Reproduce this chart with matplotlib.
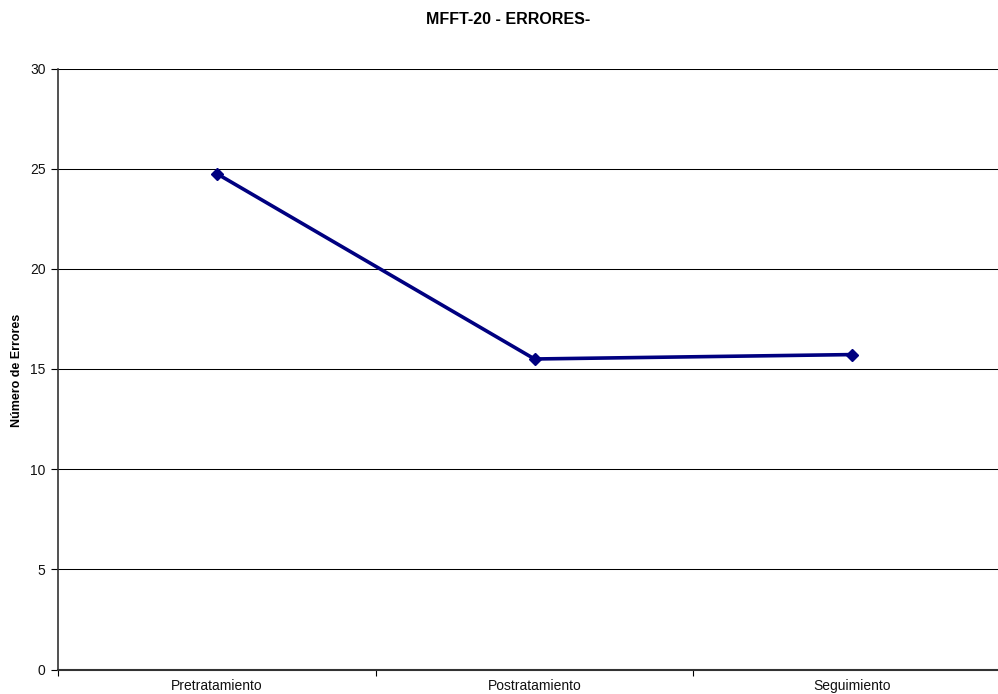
import matplotlib
matplotlib.use("Agg")
import matplotlib.pyplot as plt
import numpy as np

# Data
categories = ["Pretratamiento", "Postratamiento", "Seguimiento"]
errores = [24.75, 15.5, 15.72]
y_ticks = [0, 5, 10, 15, 20, 25, 30]

plt.rcParams['font.family'] = ['Liberation Sans', 'DejaVu Sans']

W, H = 998, 694
fig = plt.figure(figsize=(W / 100, H / 100), dpi=100)

left, right = 58 / W, 1011 / W
bottom, top = (H - 669.5) / H, (H - 68.5) / H
ax = fig.add_axes([left, bottom, right - left, top - bottom])

x = np.arange(len(categories))
ax.set_xlim(-0.5, len(categories) - 0.5)
ax.set_ylim(0, 30)

# Horizontal gridlines
ax.set_yticks(y_ticks)
ax.yaxis.grid(True, color="#000000", linewidth=0.75)
ax.set_axisbelow(True)

ax.plot(x, errores, color="#000080", linewidth=2.6, marker="D",
        markersize=6.5, markerfacecolor="#000080", markeredgecolor="#000080",
        zorder=3, clip_on=False)

# Category labels centered, ticks at boundaries
ax.set_xticks(np.arange(-0.5, len(categories) + 0.5, 1.0))
ax.set_xticklabels([])
ax.set_xticks(x, minor=True)
ax.set_xticklabels(categories, minor=True, fontsize=10, color="#111111")
ax.tick_params(axis="x", which="minor", length=0, pad=6.5)
ax.tick_params(axis="x", which="major", length=4, width=0.8, direction="out", color="black")
ax.tick_params(axis="y", length=5, width=0.8, direction="out", labelsize=10, pad=4,
               color="black", labelcolor="#111111")

for s in ["top", "right"]:
    ax.spines[s].set_visible(False)
ax.spines["left"].set_color("#333333")
ax.spines["left"].set_linewidth(1.2)
ax.spines["bottom"].set_color("#333333")
ax.spines["bottom"].set_linewidth(1.5)

fig.text(508 / W, 1 - 20 / H, "MFFT-20 - ERRORES-", ha="center", va="center",
         fontsize=11.5, fontweight="bold")
fig.text(16.7 / W, 1 - 370 / H, "Número de Errores", ha="center", va="center",
         rotation=90, fontsize=9, fontweight="bold")

fig.savefig("out.png", dpi=100, facecolor="white")
